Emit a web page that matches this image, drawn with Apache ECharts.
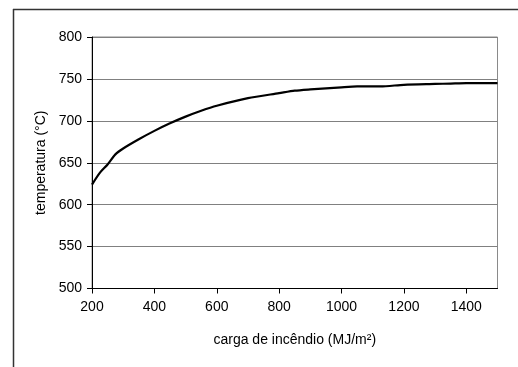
<!DOCTYPE html>
<html>
<head>
<meta charset="utf-8">
<script src="https://cdn.jsdelivr.net/npm/echarts@6/dist/echarts.min.js"></script>
<style>
html,body{margin:0;padding:0;background:#fff;}
#chart{width:518px;height:367px;}
</style>
</head>
<body>
<div id="chart"></div>
<script>
const fireLoad = [200, 225, 250, 275, 300, 350, 400, 450, 500, 550, 600, 700, 800, 850, 900, 1000, 1050, 1100, 1125, 1200, 1300, 1350, 1400, 1500];
const temperature = [624, 638, 648, 660, 667, 678, 688, 697, 705, 712, 718, 727, 733, 736, 737.5, 740, 741, 741, 741, 743, 744, 744.5, 745, 745];
const xTicks = [200, 400, 600, 800, 1000, 1200, 1400];
const yTicks = [500, 550, 600, 650, 700, 750, 800];
const xTitle = 'carga de incêndio (MJ/m²)';
const yTitle = 'temperatura (°C)';

const chart = echarts.init(document.getElementById('chart'), null, {renderer: 'canvas'});
const font = 'Liberation Sans, Arial, sans-serif';
chart.setOption({
  animation: false,
  backgroundColor: '#fff',
  grid: {left: 92, right: 20.5, top: 37, bottom: 78.5, show: true, borderColor: '#8a8a8a', borderWidth: 1, backgroundColor: 'transparent'},
  xAxis: {
    type: 'value', min: 200, max: 1500, interval: 200,
    name: xTitle, nameLocation: 'middle', nameGap: 45,
    nameTextStyle: {fontFamily: font, fontSize: 14, color: '#000'},
    axisLine: {show: true, onZero: false, lineStyle: {color: '#000', width: 1}},
    axisTick: {show: true, length: 5, customValues: xTicks, lineStyle: {color: '#000'}},
    axisLabel: {customValues: xTicks, formatter: v => String(v), fontFamily: font, fontSize: 14, color: '#000', margin: 12},
    splitLine: {show: false}
  },
  yAxis: {
    type: 'value', min: 500, max: 800, interval: 50,
    name: yTitle, nameLocation: 'middle', nameGap: 42,
    nameTextStyle: {fontFamily: font, fontSize: 14, color: '#000'},
    axisLine: {show: true, lineStyle: {color: '#000', width: 1}},
    axisTick: {show: true, length: 5, lineStyle: {color: '#000'}},
    axisLabel: {customValues: yTicks, formatter: v => String(v), fontFamily: font, fontSize: 14, color: '#000', margin: 10},
    splitLine: {show: true, lineStyle: {color: '#808080', width: 1}}
  },
  series: [{
    type: 'line',
    data: fireLoad.map((x, i) => [x, temperature[i]]),
    showSymbol: false,
    smooth: 0.25,
    lineStyle: {color: '#000', width: 2.2}
  }],
  graphic: [
    {type: 'line', shape: {x1: 13.5, y1: 9, x2: 13.5, y2: 367}, style: {stroke: '#333', lineWidth: 1.5}},
    {type: 'line', shape: {x1: 13, y1: 9.5, x2: 518, y2: 9.5}, style: {stroke: '#333', lineWidth: 1.5}}
  ]
});
</script>
</body>
</html>
